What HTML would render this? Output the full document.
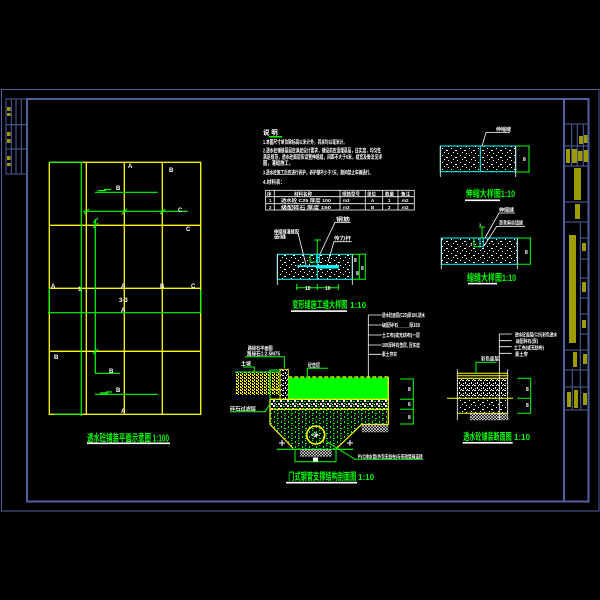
<!DOCTYPE html>
<html><head><meta charset="utf-8"><style>
html,body{margin:0;padding:0;background:#000;width:600px;height:600px;overflow:hidden}
svg{display:block}
text{font-family:"Liberation Sans","Noto Sans CJK SC",sans-serif;font-weight:bold}
.w{fill:#fff}.g{fill:#00ff00}.o{fill:#9c9c00}
</style></head><body>
<svg width="600" height="600" viewBox="0 0 600 600" xmlns="http://www.w3.org/2000/svg">
<defs>
<pattern id="conc" width="9" height="7" patternUnits="userSpaceOnUse">
<rect x="1" y="1" width="1" height="1" fill="#fff"/><rect x="5" y="3" width="2" height="1" fill="#fff"/><rect x="3" y="5" width="1" height="1" fill="#fff"/><rect x="7" y="6" width="1" height="1" fill="#fff"/>
</pattern>
<pattern id="conc2" width="6" height="5" patternUnits="userSpaceOnUse">
<rect x="0" y="0" width="2" height="1" fill="#fff"/><rect x="3" y="2" width="1" height="2" fill="#fff"/><rect x="1" y="3" width="1" height="1" fill="#fff"/><rect x="5" y="4" width="1" height="1" fill="#fff"/><rect x="4" y="0" width="1" height="1" fill="#fff"/>
</pattern>
<pattern id="grav" width="7" height="5" patternUnits="userSpaceOnUse">
<rect x="0" y="0" width="2" height="2" fill="#fff"/><rect x="3" y="1" width="2" height="1" fill="#00ff00"/><rect x="5" y="3" width="2" height="2" fill="#fff"/><rect x="1" y="3" width="2" height="1" fill="#00ff00"/><rect x="3" y="4" width="1" height="1" fill="#fff"/>
</pattern>
<pattern id="gdot" width="7" height="5" patternUnits="userSpaceOnUse">
<rect x="1" y="1" width="1" height="2" fill="#00ff00"/><rect x="4" y="3" width="2" height="1" fill="#00ff00"/><rect x="4" y="0" width="1" height="1" fill="#00ff00"/>
</pattern>
<pattern id="soil" width="4" height="3" patternUnits="userSpaceOnUse">
<rect x="0" y="0" width="2" height="1" fill="#ffff00"/><rect x="2" y="1" width="1" height="2" fill="#ffff00"/><rect x="0" y="2" width="1" height="1" fill="#ffff00"/>
</pattern>
<pattern id="hatch" width="3" height="3" patternUnits="userSpaceOnUse">
<path d="M0 3L3 0M0 0L3 3" stroke="#fff" stroke-width="0.6"/>
</pattern>
</defs>
<rect width="600" height="600" fill="#000"/>

<!-- FRAME -->
<g stroke="#5060a0" fill="none">
<rect x="1.5" y="89.5" width="597.5" height="421.5" stroke-width="1"/>
<rect x="27" y="99" width="561.5" height="402.5" stroke-width="2"/>
<rect x="6" y="99" width="21" height="75" stroke-width="1"/>
<path d="M11.3 99V174M16 99V174M21.3 99V174M6 124.7H27M6 149H27" stroke-width="1"/>
<path d="M564 99V501.5" stroke-width="2"/>
<path d="M564 124H588M564 146H588M564 166H588M564 202H588M564 222H588M564 350H588M564 370H588M564 387H588M564 410H588" stroke-width="1"/>
<path d="M571.7 124V166M577.3 124V166M583.3 124V166" stroke-width="1"/>
<path d="M580.3 222V387M580.3 238H588M580.3 259H588M580.3 278H588M580.3 298H588M580.3 314H588M580.3 334H588" stroke-width="1"/>
<path d="M572.3 370V410M580.7 387V410" stroke-width="1"/>
</g>
<!-- left strip text -->
<g fill="#9c9c00">
<rect x="7" y="107" width="3.5" height="4"/><rect x="7" y="113" width="3.5" height="3"/>
<rect x="7" y="132" width="3.5" height="4"/><rect x="7" y="139" width="3.5" height="4"/>
<rect x="7" y="156" width="3.5" height="4"/><rect x="7" y="163" width="3.5" height="3"/>
</g>
<!-- title block text -->
<g fill="#9c9c00">
<rect x="579" y="136" width="4" height="8"/><rect x="584" y="135" width="3.5" height="8"/>
<rect x="566" y="149" width="4" height="14"/><rect x="572" y="149" width="5" height="14"/><rect x="578" y="151" width="4.5" height="10"/><rect x="584" y="150" width="4" height="12"/>
<rect x="574" y="168" width="7" height="32"/>
<rect x="575" y="204" width="5" height="15"/>
<rect x="569" y="235" width="7" height="108"/>
<rect x="582" y="243" width="4" height="8"/><rect x="582" y="282" width="4" height="10"/><rect x="582" y="320" width="4" height="8"/>
<rect x="573" y="352" width="4" height="15"/><rect x="583" y="354" width="4" height="10"/>
<rect x="567" y="392" width="4" height="15"/><rect x="574" y="390" width="4" height="18"/><rect x="583" y="393" width="4" height="12"/>
</g>

<!-- PLAN -->
<g stroke="#ffff00" stroke-width="1.3" fill="none">
<rect x="49.3" y="162.3" width="151.4" height="252"/>
<path d="M86.3 162.3V414.3M124.3 162.3V414.3M162.3 162.3V414.3M49.3 225.3H200.7M49.3 288.3H200.7M49.3 351.3H200.7"/>
</g>
<g stroke="#00ff00" stroke-width="1.2" fill="none">
<path d="M49.3 162.3H83M81.3 162.3V416"/>
<path d="M95.3 219V373.3H120"/>
<path d="M83.3 211.3H187.7"/>
<path d="M95 192.3H157.7M98 190.5H106M104 189.5H111"/>
<path d="M48 312.7H200.7M49.3 288.3V313M200.7 290V313"/>
<path d="M95 394.3H157.7M100 393H108M106 392H112"/>
<path d="M54 414.3H81.3"/>
<path d="M84 214L89 209M122 214L127 209M160 214L165 209M93 228L98 223M93 354L98 349M93 223L98 218"/>
</g>
<g class="w" font-size="6">
<text x="128" y="168">A</text><text x="169" y="172">B</text><text x="116" y="190">B</text>
<text x="178" y="212">C</text><text x="186" y="231">C</text>
<text x="51" y="288">A</text><text x="78" y="291">1</text><text x="121" y="288">A</text><text x="160" y="288">B</text><text x="191" y="288">C</text>
<text x="119" y="302">3-3</text><text x="121" y="312">A</text>
<text x="54" y="359">B</text><text x="109" y="373">B</text><text x="116" y="392">B</text><text x="121" y="413">A</text>
</g>
<text x="87" y="441.5" class="g" font-size="10" textLength="82" lengthAdjust="spacingAndGlyphs">透水砼铺装平面示意图 1:100</text>
<rect x="87" y="442.5" width="83" height="1.6" fill="#fff"/>

<!-- NOTES -->
<text x="263" y="134.5" class="w" font-size="6.5">说 明</text>
<rect x="269" y="136" width="13" height="1.5" fill="#00ff00"/>
<g class="w" font-size="5.5">
<text x="263" y="144" textLength="84" lengthAdjust="spacingAndGlyphs">1.本图尺寸单位除标高以米计外，其余均以毫米计。</text>
<text x="263" y="152.5" textLength="118" lengthAdjust="spacingAndGlyphs">2.透水砼铺装基层应满足设计要求，铺设前应清理基层，压实度，均匀性</text>
<text x="263" y="159" textLength="119" lengthAdjust="spacingAndGlyphs">满足规范，透水砼面层应设置伸缩缝，间距不大于6米，缝宽及做法见详</text>
<text x="263" y="165" textLength="30" lengthAdjust="spacingAndGlyphs">图，灌缝施工。</text>
<text x="263" y="174.5" textLength="110" lengthAdjust="spacingAndGlyphs">3.透水砼施工后应进行养护，养护期不少于7天，期间禁止车辆通行。</text>
<text x="263" y="184" textLength="22" lengthAdjust="spacingAndGlyphs">4.材料表：</text>
</g>
<g stroke="#fff" stroke-width="0.8" fill="none">
<rect x="265.7" y="190.3" width="148.6" height="19.7"/>
<path d="M265.7 196.7H414.3M265.7 203.7H414.3M274.3 190.3V210M340 190.3V210M365.3 190.3V210M382.7 190.3V210M398 190.3V210"/>
</g>
<g class="w" font-size="4.5">
<text x="267" y="195.3">序</text><text x="294" y="195.3">材料名称</text><text x="342" y="195.3">规格型号</text><text x="367" y="195.3">单位</text><text x="385" y="195.3">数量</text><text x="401" y="195.3">备注</text>
<text x="269" y="202">1</text><text x="281" y="202" textLength="50" lengthAdjust="spacingAndGlyphs">透水砼 C25 厚度 100</text><text x="343" y="202">m3</text><text x="371" y="202">A</text><text x="388" y="202">1</text><text x="402" y="202">m2</text>
<text x="269" y="209">2</text><text x="281" y="209" textLength="50" lengthAdjust="spacingAndGlyphs">级配碎石 厚度 150</text><text x="343" y="209">m3</text><text x="371" y="209">B</text><text x="388" y="209">2</text><text x="402" y="209">m2</text>
</g>

<!-- TOP RIGHT DETAIL 1 -->
<rect x="440.3" y="146" width="75.4" height="25.7" fill="url(#conc)" stroke="#00ffff" stroke-width="1"/>
<path d="M480.3 146V171.7" stroke="#00ffff" stroke-width="1"/>
<path d="M440.3 146V177M515.7 146V177" stroke="#fff" stroke-width="0.8"/>
<path d="M482 146L486 132.5H510" stroke="#fff" stroke-width="0.8" fill="none"/>
<text x="496" y="131" class="w" font-size="5">伸缩缝</text>
<g stroke="#00ff00" stroke-width="1" fill="none"><path d="M529 146V172M516 146H530M516 172H530"/></g>
<text x="523" y="161" class="w" font-size="5">8</text>
<text x="465.7" y="197" class="g" font-size="9.5" textLength="49.3" lengthAdjust="spacingAndGlyphs">伸缩大样图1:10</text>
<rect x="465" y="199.5" width="35" height="1.6" fill="#fff"/>

<!-- TOP RIGHT DETAIL 2 -->
<rect x="441.3" y="238" width="76" height="26.3" fill="url(#conc)" stroke="#00ffff" stroke-width="1"/>
<rect x="480" y="238" width="3.3" height="8.7" fill="none" stroke="#00ffff" stroke-width="1"/>
<path d="M474 238V246.7H480" stroke="#00ff00" fill="none" stroke-width="1"/>
<path d="M482 227V238M479 227H485" stroke="#00ff00" stroke-width="1"/>
<path d="M441.3 238V269.3M517.3 238V269.3" stroke="#fff" stroke-width="0.8"/>
<path d="M485 238L499 213H515M484 246L496.7 226.3H525" stroke="#fff" stroke-width="0.8" fill="none"/>
<text x="499" y="211.5" class="w" font-size="5">伸缩缝</text>
<text x="499" y="224.5" class="w" font-size="5" textLength="24" lengthAdjust="spacingAndGlyphs">沥青麻丝填缝</text>
<text x="479" y="226" class="w" font-size="4">1</text>
<text x="470" y="246" class="w" font-size="4">1</text>
<g stroke="#00ff00" stroke-width="1" fill="none"><path d="M530.3 238V264.3M517 238H531M517 264.3H531"/></g>
<text x="525" y="254" class="w" font-size="5">8</text>
<text x="467" y="281" class="g" font-size="9.5" textLength="49" lengthAdjust="spacingAndGlyphs">缩缝大样图1:10</text>
<rect x="468" y="282.8" width="29" height="1.6" fill="#fff"/>

<!-- CENTER DETAIL -->
<rect x="277.3" y="254.3" width="75" height="25" fill="url(#conc)" stroke="#00ffff" stroke-width="1"/>
<path d="M277.3 254.3V285M352.3 254.3V285" stroke="#fff" stroke-width="0.8"/>
<path d="M317.3 254.3V279.3" stroke="#00ffff" stroke-width="1"/>
<rect x="317.3" y="265" width="21.7" height="3.5" fill="#00ffff"/>
<rect x="297.3" y="265.3" width="20" height="1.8" fill="#00ffff"/>
<rect x="316.7" y="254.3" width="2.6" height="8" fill="none" stroke="#00ffff" stroke-width="1"/>
<path d="M310 254.3V262H316" stroke="#00ff00" fill="none" stroke-width="1"/>
<path d="M317.3 239.3V254.3M314 240H321" stroke="#00ff00" stroke-width="1"/>
<path d="M306 265L298 233M320 254L335 222.3H350.7M328 262L334 241.7H351.7" stroke="#fff" stroke-width="0.8" fill="none"/>
<text x="274" y="233.5" class="w" font-size="5" textLength="25" lengthAdjust="spacingAndGlyphs">伸缩缝灌缝胶</text>
<text x="274" y="238.5" class="w" font-size="5" textLength="12" lengthAdjust="spacingAndGlyphs">嵌缝</text>
<text x="336" y="221" class="w" font-size="5" textLength="14" lengthAdjust="spacingAndGlyphs">钢筋</text>
<text x="334" y="240" class="w" font-size="5" textLength="17" lengthAdjust="spacingAndGlyphs">传力杆</text>
<g stroke="#00ff00" stroke-width="1" fill="none">
<path d="M359.3 254.3V279.3M365.3 254.3V279.3M352.3 254.3H366M352.3 279.3H366"/>
<path d="M296.7 287.7H338.3M296.7 284V290M317.3 284V290M338.3 284V290"/>
</g>
<text x="354" y="262" class="w" font-size="5">8</text><text x="361" y="270" class="w" font-size="5">8</text><text x="356" y="275" class="w" font-size="5">8</text>
<text x="305" y="290" class="w" font-size="5">10</text><text x="325" y="290" class="w" font-size="5">10</text>
<text x="292.3" y="308" class="g" font-size="9.5" textLength="55" lengthAdjust="spacingAndGlyphs">变形缝施工缝大样图</text>
<text x="350" y="308" class="g" font-size="8">1:10</text>
<rect x="291" y="310.3" width="56" height="1.6" fill="#fff"/>

<!-- BOTTOM CENTER SECTION -->
<path d="M368.3 315V377.7M368.3 315H381.7M368.3 325H381.7M368.3 335H381.7M368.3 345H381.7M368.3 354.3H381.7" stroke="#fff" stroke-width="0.8" fill="none"/>
<g class="w" font-size="5">
<text x="382" y="317" textLength="43" lengthAdjust="spacingAndGlyphs">透水砼面层(C25)厚100,透水</text>
<text x="382" y="327" textLength="38" lengthAdjust="spacingAndGlyphs">级配碎石_____厚150</text>
<text x="382" y="337" textLength="38" lengthAdjust="spacingAndGlyphs">土工布(或无纺布)一层</text>
<text x="382" y="347" textLength="38" lengthAdjust="spacingAndGlyphs">100厚碎石垫层, 压实度</text>
<text x="382" y="356" textLength="15" lengthAdjust="spacingAndGlyphs">素土夯实</text>
</g>
<!-- soil -->
<rect x="235" y="372" width="45" height="23" fill="url(#soil)"/>
<path d="M235 372H280" stroke="#00ff00" stroke-width="1"/>
<rect x="270" y="370" width="10" height="29" fill="none" stroke="#00ff00" stroke-width="1"/>
<path d="M270 389.3H280" stroke="#ffff00" stroke-width="1"/>
<rect x="280" y="369.3" width="8.3" height="30" fill="url(#conc2)" stroke="#ffff00" stroke-width="0.8"/>
<!-- green layer -->
<rect x="288.3" y="377.7" width="100" height="21.6" fill="#00ff00"/>
<path d="M288.3 377H388.3" stroke="#ffff00" stroke-width="1.2" stroke-dasharray="4 2"/>
<rect x="270" y="399.3" width="118.3" height="10" fill="url(#grav)"/>
<path d="M270 399.3H388.3M270 409.3H388.3" stroke="#ffff00" stroke-width="1.2"/>
<!-- trapezoid -->
<path d="M270 409.3V424.3L293.3 448.5H336L361.7 424.3H388.3V409.3Z" fill="url(#gdot)"/>
<path d="M270 399.3V424.3L293.3 448.5M388.3 377V424.3H361.7L336 449" stroke="#ffff00" stroke-width="1.2" fill="none"/>
<rect x="361.7" y="424.3" width="26.6" height="8" fill="url(#hatch)"/>
<path d="M276.7 449.3H353.3" stroke="#00ff00" stroke-width="1.2"/>
<rect x="300" y="449.3" width="31.7" height="7.4" fill="url(#hatch)"/>
<path d="M295 449V461.7H336V449" stroke="#00ff00" stroke-width="1" fill="none"/>
<rect x="313" y="457.5" width="5" height="4" fill="#fff"/>
<circle cx="315.7" cy="435" r="9" fill="none" stroke="#ffff00" stroke-width="1.6"/>
<path d="M311 435H318M314 432L318 435L314 437" stroke="#fff" stroke-width="1" fill="none"/>
<path d="M279 443H285M282 440V446M347 443H353M350 440V446" stroke="#fff" stroke-width="1"/>
<!-- leaders -->
<g stroke="#00ff00" stroke-width="1" fill="none">
<path d="M245 356.7H284.3V368.3"/>
<path d="M243 367H254.3V372"/>
<path d="M307.3 377.7V368.3H328.3"/>
<path d="M230 411.7H265L270 404"/>
<path d="M326.7 441.7L355 459.3H423"/>
<path d="M413.3 379V424M400 379H414M400 399.3H414M400 409.3H414M400 424H414"/>
</g>
<g class="w" font-size="5">
<text x="247.7" y="350" textLength="25" lengthAdjust="spacingAndGlyphs">路缘石平面图</text>
<text x="247" y="355.5" textLength="33" lengthAdjust="spacingAndGlyphs">路缘石1:2.5M75</text>
<text x="241" y="365.5" textLength="10" lengthAdjust="spacingAndGlyphs">土坡</text>
<text x="308" y="367" textLength="12" lengthAdjust="spacingAndGlyphs">砼垫层</text>
<text x="230" y="410.5" textLength="26" lengthAdjust="spacingAndGlyphs">碎石过滤层</text>
<text x="357.7" y="458.5" textLength="65" lengthAdjust="spacingAndGlyphs">PVC排水管(外包无纺布)与市政管网连接</text>
<text x="408" y="391">8</text><text x="408" y="406">6</text><text x="408" y="419">8</text>
</g>
<text x="288.3" y="480" class="g" font-size="10" textLength="68" lengthAdjust="spacingAndGlyphs">门式钢管支撑结构剖面图</text>
<text x="358" y="480" class="g" font-size="8">1:10</text>
<rect x="286" y="481.8" width="71" height="1.7" fill="#fff"/>

<!-- RIGHT SECTION -->
<path d="M457.3 369.3V420M507.7 369.3V420" stroke="#fff" stroke-width="0.8"/>
<rect x="457.3" y="378.3" width="50.4" height="20" fill="url(#conc2)"/>
<rect x="457.3" y="398.3" width="50.4" height="15" fill="url(#conc)"/>
<path d="M457.3 373.3H507.7M457.3 375.7H507.7M457.3 378.3H507.7M447 398.3H513M457.3 413.3H507.7" stroke="#ffff00" stroke-width="1"/>
<rect x="470" y="413.3" width="36.7" height="7" fill="url(#hatch)"/>
<path d="M499.3 334V420M499.3 334H511.7M499.3 340.7H511.7M499.3 346.7H511.7M499.3 353.3H511.7" stroke="#fff" stroke-width="0.8" fill="none"/>
<g class="w" font-size="5">
<text x="515" y="336.5" textLength="42" lengthAdjust="spacingAndGlyphs">透水砼面层(C25)彩色透水</text>
<text x="516" y="343" textLength="22" lengthAdjust="spacingAndGlyphs">级配碎石(厚)</text>
<text x="514" y="349.5" textLength="30" lengthAdjust="spacingAndGlyphs">土工布(或无纺布)</text>
<text x="515" y="356" textLength="13" lengthAdjust="spacingAndGlyphs">素土夯</text>
<text x="481" y="360.5" textLength="18" lengthAdjust="spacingAndGlyphs">彩色面层</text>
<text x="526" y="391">8</text><text x="526" y="407">8</text>
</g>
<path d="M476 373.3V362.3H496.7" stroke="#00ff00" stroke-width="1" fill="none"/>
<path d="M530.7 378.3V413.3M517.3 378.3H531M517.3 398.3H531M517.3 413.3H531" stroke="#00ff00" stroke-width="1" fill="none"/>
<text x="463.3" y="440" class="g" font-size="9.5" textLength="48.4" lengthAdjust="spacingAndGlyphs">透水砼铺装断面图</text>
<text x="514" y="440" class="g" font-size="8">1:10</text>
<rect x="462.7" y="442" width="50" height="1.6" fill="#fff"/>
</svg>
</body></html>
